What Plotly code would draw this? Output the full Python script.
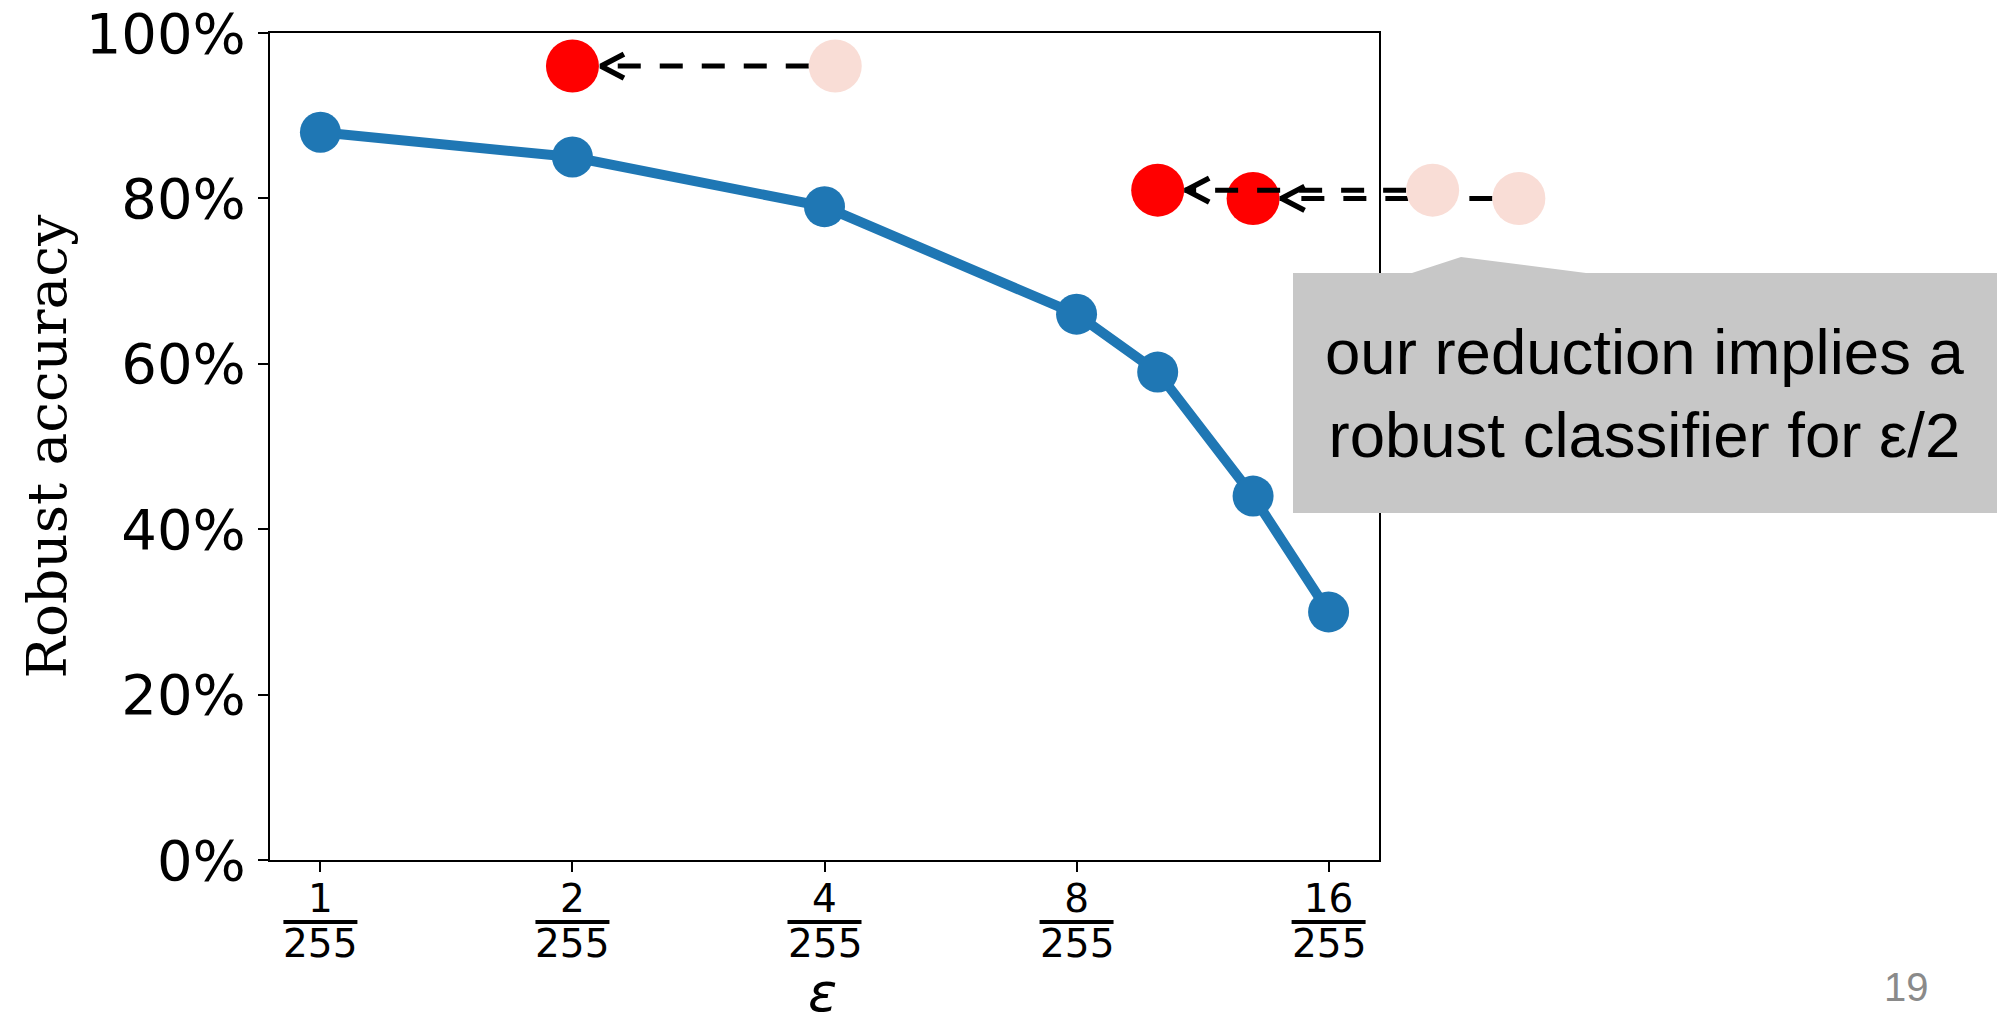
import numpy as np
import plotly.graph_objects as go

# ---------------- data ----------------
eps_numerators = [1, 2, 4, 8, 10, 13, 16]          # epsilon = n/255
robust_accuracy = [88, 85, 79, 66, 59, 44, 30]     # percent
reduced_eps = [2, 10, 13]                          # red points (n/255)
reduced_accuracy = [96, 81, 80]
original_eps = [4.12, 21.3, 27]                    # faded points (n/255)
original_accuracy = [96, 81, 80]
tick_eps = [1, 2, 4, 8, 16]
tick_numerators = ["1", "2", "4", "8", "16"]
tick_denominator = "255"
y_ticks = [0, 20, 40, 60, 80, 100]
y_ticklabels = ["0%", "20%", "40%", "60%", "80%", "100%"]
y_title = "Robust accuracy"
x_title = "ε"
callout_lines = ["our reduction implies a", "robust classifier for ε/2"]
page_number = "19"

# ---------------- layout constants ----------------
W, H = 1997, 1016
L, R, T, B = 270, 1379, 33, 860          # plot area in pixels
XMIN, XMAX = -0.2, 4.2                   # log2 units
YMIN, YMAX = 0, 100
pxu_x = (R - L) / (XMAX - XMIN)
pxu_y = (B - T) / (YMAX - YMIN)
X2 = [XMIN - L / pxu_x, XMAX + (W - R) / pxu_x]
Y2 = [YMIN - (H - B) / pxu_y, YMAX + T / pxu_y]

BLUE = "#1f77b4"
RED = "#ff0000"
FADED = "#f9ddd6"
SANS = "DejaVu Sans"

def px(x):
    return x / W

def py(y):
    return 1 - y / H

fig = go.Figure()

# main series
fig.add_trace(go.Scatter(
    x=np.log2(eps_numerators), y=robust_accuracy, mode="lines+markers",
    line=dict(color=BLUE, width=10), marker=dict(color=BLUE, size=41),
    cliponaxis=False, xaxis="x", yaxis="y", hoverinfo="skip"))

# red (reduced) points
fig.add_trace(go.Scatter(
    x=np.log2(reduced_eps), y=reduced_accuracy, mode="markers",
    marker=dict(color=RED, size=53), cliponaxis=False,
    xaxis="x2", yaxis="y2", hoverinfo="skip"))

# arrows from faded point to red point
rad = 26.5
head_len, head_half = 25, 12
for o, r, yv in zip(original_eps, reduced_eps, reduced_accuracy):
    xo, xr = np.log2(o), np.log2(r)
    tip = xr + rad / pxu_x
    fig.add_trace(go.Scatter(
        x=[xo - rad / pxu_x, tip], y=[yv, yv], mode="lines",
        line=dict(color="black", width=5, dash="23px,19px"),
        xaxis="x2", yaxis="y2", hoverinfo="skip"))
    fig.add_trace(go.Scatter(
        x=[tip + head_len / pxu_x, tip + 2 / pxu_x, tip + head_len / pxu_x],
        y=[yv + head_half / pxu_y, yv, yv - head_half / pxu_y], mode="lines",
        line=dict(color="black", width=5.5),
        xaxis="x2", yaxis="y2", hoverinfo="skip"))

# faded (original) points
fig.add_trace(go.Scatter(
    x=np.log2(original_eps), y=original_accuracy, mode="markers",
    marker=dict(color=FADED, size=53), cliponaxis=False,
    xaxis="x2", yaxis="y2", hoverinfo="skip"))

shapes = []
annotations = []
# fraction bars and denominators under tick numerators
for t in tick_eps:
    xt = float(np.log2(t))
    shapes.append(dict(type="line", xref="x2", xsizemode="pixel",
                       xanchor=xt, x0=-37, x1=37,
                       yref="paper", y0=py(922), y1=py(922),
                       line=dict(color="black", width=4)))
    annotations.append(dict(x=xt, y=py(943), xref="x2", yref="paper",
                            text=tick_denominator, showarrow=False,
                            xanchor="center", yanchor="middle",
                            font=dict(family=SANS, size=39, color="black")))

# callout box with pointer
pts = [(1293, 273), (1412, 273), (1461, 257), (1586, 273), (1997, 273),
       (1997, 513), (1293, 513)]
path = "M " + " L ".join(f"{px(a):.5f},{py(b):.5f}" for a, b in pts) + " Z"
shapes.append(dict(type="path", xref="paper", yref="paper", path=path,
                   fillcolor="#c7c7c7", line=dict(width=0), layer="above"))

annotations += [
    dict(x=px(46), y=py(446.5), xref="paper", yref="paper", text=y_title,
         textangle=-90, showarrow=False, xanchor="center", yanchor="middle",
         font=dict(family="DejaVu Serif", size=55, color="black")),
    dict(x=px(822), y=py(992), xref="paper", yref="paper",
         text=f"<i>{x_title}</i>", showarrow=False, xanchor="center",
         yanchor="middle", font=dict(family=SANS, size=54, color="black")),
    dict(x=px(1645), y=py(393), xref="paper", yref="paper",
         text="<br>".join(callout_lines), showarrow=False, xanchor="center",
         yanchor="middle", align="center",
         font=dict(family="Liberation Sans, Arial", size=63.5, color="black")),
    dict(x=px(1906), y=py(987), xref="paper", yref="paper", text=page_number,
         showarrow=False, xanchor="center", yanchor="middle",
         font=dict(family="Liberation Sans, Arial", size=40, color="#8a8a8a")),
]

fig.update_layout(
    width=W, height=H, margin=dict(l=0, r=0, t=0, b=0, autoexpand=False),
    paper_bgcolor="white", plot_bgcolor="rgba(0,0,0,0)", showlegend=False,
    xaxis=dict(domain=[px(L), px(R)], range=[XMIN, XMAX], anchor="y",
               tickmode="array", tickvals=list(np.log2(tick_eps)),
               ticktext=tick_numerators, automargin=False,
               ticks="outside", ticklen=10, tickwidth=2, tickcolor="black",
               showline=True, linewidth=2, linecolor="black", mirror=True,
               showgrid=False, zeroline=False, ticklabelstandoff=-7,
               tickfont=dict(family=SANS, size=39, color="black")),
    yaxis=dict(domain=[1 - B / H, 1 - T / H], range=[YMIN, YMAX], anchor="x",
               tickmode="array", tickvals=y_ticks, ticktext=y_ticklabels,
               ticks="outside", ticklen=10, tickwidth=2, tickcolor="black",
               showline=True, linewidth=2, linecolor="black", mirror=True,
               showgrid=False, zeroline=False, ticklabelstandoff=1,
               automargin=False,
               tickfont=dict(family=SANS, size=56, color="black")),
    xaxis2=dict(domain=[0, 1], range=X2, anchor="y2", visible=False,
                showgrid=False, zeroline=False, automargin=False),
    yaxis2=dict(domain=[0, 1], range=Y2, anchor="x2", visible=False,
                showgrid=False, zeroline=False, automargin=False),
    shapes=shapes, annotations=annotations,
)

fig.write_html("out.html", config={"displayModeBar": False},
               post_script="document.body.style.margin='0';document.body.style.overflow='hidden';")
